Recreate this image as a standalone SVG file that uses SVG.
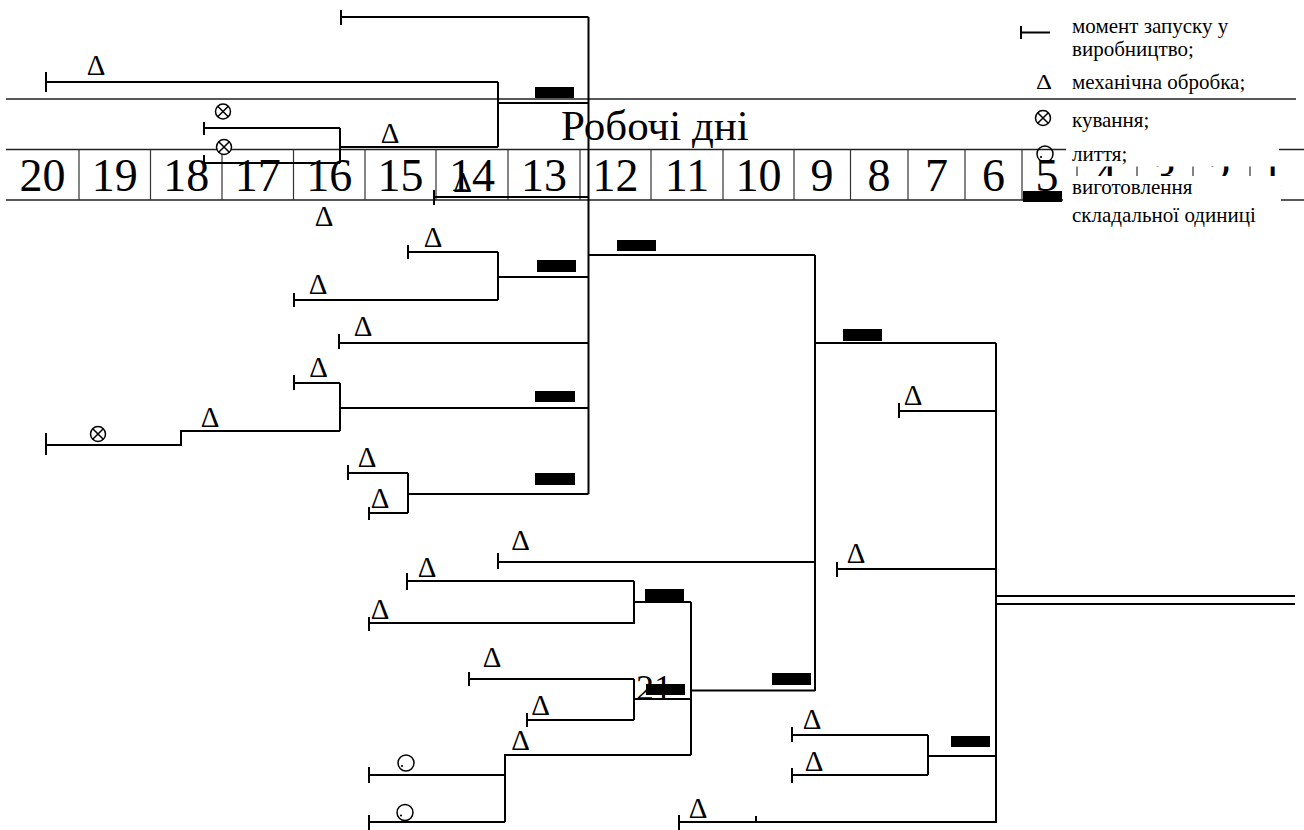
<svg xmlns="http://www.w3.org/2000/svg" width="1304" height="830" viewBox="0 0 1304 830">
<style>
.ln{fill:none;stroke:#000;stroke-width:2}
.tl{fill:none;stroke:#222;stroke-width:1.6}
.dv{fill:none;stroke:#333;stroke-width:1.2}
.bar{fill:#000}
.num{font-family:"Liberation Serif","Times New Roman",serif;font-size:46px;text-anchor:middle;fill:#000}
.tri{font-family:"Liberation Serif","Times New Roman",serif;font-size:29px;text-anchor:middle;fill:#000}
.lg{font-family:"Liberation Serif","Times New Roman",serif;font-size:21px;fill:#000}
.ttl{font-family:"Liberation Serif","Times New Roman",serif;font-size:43px;fill:#000}
</style>
<defs>
<g id="forge"><circle r="7.5" fill="#fff" stroke="#000" stroke-width="1.5"/><path d="M-5.3-5.3L5.3 5.3M-5.3 5.3L5.3-5.3" stroke="#000" stroke-width="1.5"/></g>
<g id="cast"><circle r="8" fill="none" stroke="#000" stroke-width="1.5"/><circle cx="-4" cy="3" r="1.1" fill="#000"/></g>
</defs>
<rect width="1304" height="830" fill="#fff"/>

<g id="timeline">
<path class="tl" d="M6,99H1296M6,149.5H1304M6,200H1304"/>
<path class="dv" d="M79,149.5V200M150.5,149.5V200M222,149.5V200M293.5,149.5V200M365,149.5V200M436,149.5V200M508,149.5V200M580,149.5V200M651,149.5V200M723,149.5V200M794,149.5V200M850.5,149.5V200M908,149.5V200M965,149.5V200M1022,149.5V200M1077,149.5V200M1137,149.5V200M1193,149.5V200M1250,149.5V200"/>
<text class="num" x="42.5" y="191">20</text>
<text class="num" x="114.8" y="191">19</text>
<text class="num" x="186.3" y="191">18</text>
<text class="num" x="257.8" y="191">17</text>
<text class="num" x="329.3" y="191">16</text>
<text class="num" x="400.5" y="191">15</text>
<text class="num" x="472" y="191">14</text>
<text class="num" x="544" y="191">13</text>
<text class="num" x="615.5" y="191">12</text>
<text class="num" x="687" y="191">11</text>
<text class="num" x="758.5" y="191">10</text>
<text class="num" x="822" y="191">9</text>
<text class="num" x="879" y="191">8</text>
<text class="num" x="936.5" y="191">7</text>
<text class="num" x="993.5" y="191">6</text>
<text class="num" x="1047" y="191">5</text>
<text class="num" x="1105" y="191">4</text>
<text class="num" x="1165" y="191">3</text>
<text class="num" x="1220" y="191">2</text>
<text class="num" x="1272" y="191">1</text>
<text class="ttl" x="561" y="140">Робочі дні</text>
</g>

<g id="connectors" class="ln">
<path d="M588.5,17V494"/>
<path d="M498,82V147M498,103H588.5"/>
<path d="M340,128V163M340,147H498"/>
<path d="M498,252V300M498,277H588.5"/>
<path d="M340,383V431M340,408H588.5"/>
<path d="M408,473V513M408,494H588.5"/>
<path d="M588.5,255H815M815,255V691"/>
<path d="M815,343H996M996,343V823"/>
<path d="M634,581V624M634,602H691M691,602V755"/>
<path d="M634,679V720M633,699H691"/>
<path d="M691,690.5H815"/>
<path d="M505,822V755H691"/>
<path d="M928,735V775M928,756H996"/>
<path d="M996,596H1295M996,604H1295"/>
</g>

<g id="n01"><path class="ln" d="M341,10V25M341,17H588.5"/></g>
<g id="n02"><path class="ln" d="M46,72V92M46,82H498"/><text class="tri" x="96" y="75">Δ</text></g>
<g id="n03"><text class="tri" x="390" y="143">Δ</text></g>
<g id="n04"><path class="ln" d="M204,122V135M204,128H340"/><use href="#forge" x="223" y="111.5"/></g>
<g id="n05"><path class="ln" d="M204,155V164M204,163H340"/><use href="#forge" x="224" y="147"/></g>
<g id="n06"><path class="ln" d="M434,190V205M434,197H588.5"/><text class="tri" x="462.5" y="192">Δ</text></g>
<g id="n07"><text class="tri" x="324" y="226">Δ</text></g>
<g id="n08"><path class="ln" d="M408,245V259M408,252H498"/><text class="tri" x="433" y="247">Δ</text></g>
<g id="n09"><path class="ln" d="M294,293V307M294,300H498"/><text class="tri" x="318" y="293.5">Δ</text></g>
<g id="n10"><path class="ln" d="M339,334V349M339,343H588.5"/><text class="tri" x="363" y="336">Δ</text></g>
<g id="n11"><path class="ln" d="M294,375V390M294,383H340"/><text class="tri" x="318.5" y="377">Δ</text></g>
<g id="n12"><path class="ln" d="M46,433V455M46,445H181V431H340"/><use href="#forge" x="98" y="434"/><text class="tri" x="210" y="426.5">Δ</text></g>
<g id="n13"><path class="ln" d="M348,465V480M348,473H408"/><text class="tri" x="367" y="467">Δ</text></g>
<g id="n14"><path class="ln" d="M369,507V520M369,513H408"/><text class="tri" x="380" y="508">Δ</text></g>
<g id="n15"><path class="ln" d="M899,403V418M899,411H996"/><text class="tri" x="913" y="405">Δ</text></g>
<g id="n16"><path class="ln" d="M498,553V569M498,562H815"/><text class="tri" x="520.5" y="550">Δ</text></g>
<g id="n17"><path class="ln" d="M837,562V577M837,569H996"/><text class="tri" x="856" y="563">Δ</text></g>
<g id="n18"><path class="ln" d="M407,573V590M407,581H634"/><text class="tri" x="427" y="577">Δ</text></g>
<g id="n19"><path class="ln" d="M369,617V631M369,623H634"/><text class="tri" x="380" y="619">Δ</text></g>
<g id="n20"><path class="ln" d="M469,672V686M469,679H634"/><text class="tri" x="492" y="667">Δ</text></g>
<g id="n21"><path class="ln" d="M527,713V727M527,720H634"/><text class="tri" x="540.5" y="715">Δ</text></g>
<g id="n22"><text class="tri" x="520.5" y="749.5">Δ</text></g>
<g id="n23"><path class="ln" d="M369,767V783M369,775H505"/><use href="#cast" x="406" y="763"/></g>
<g id="n24"><path class="ln" d="M369,815V830M369,822H505"/><use href="#cast" x="405" y="812.5"/></g>
<g id="n25"><path class="ln" d="M679,815V830M679,822H996"/><path class="ln" d="M756,816V822" stroke-width="1.3"/><text class="tri" x="698" y="818">Δ</text></g>
<g id="n26"><path class="ln" d="M792,727V742M792,735H928"/><text class="tri" x="812" y="729">Δ</text></g>
<g id="n27"><path class="ln" d="M792,768V783M792,775H928"/><text class="tri" x="814" y="771">Δ</text></g>

<g id="assemblies">
<rect class="bar" x="535" y="87" width="39" height="11"/>
<rect class="bar" x="537" y="260" width="39" height="12"/>
<rect class="bar" x="617" y="240" width="39" height="11"/>
<rect class="bar" x="535" y="391" width="40" height="11"/>
<rect class="bar" x="535" y="473" width="40" height="12"/>
<rect class="bar" x="843" y="329" width="39" height="12"/>
<rect class="bar" x="645" y="589" width="39" height="12"/>
<text x="636" y="700" font-family="Liberation Serif, serif" font-size="36" fill="#000">21</text>
<rect class="bar" x="646" y="684" width="39" height="11"/>
<rect class="bar" x="772" y="673" width="39" height="12"/>
<rect class="bar" x="951" y="736" width="39" height="11"/>
</g>

<g id="legend">
<rect x="1066" y="139" width="213" height="27.5" fill="#fff"/>
<rect x="1063" y="176" width="218" height="52" fill="#fff"/>
<path class="ln" d="M1021,26V39M1021,32.5H1050"/>
<text class="lg" x="1072" y="33">момент запуску у</text>
<text class="lg" x="1072" y="56">виробництво;</text>
<text x="1036" y="89" font-family="Liberation Serif, serif" font-size="22" textLength="16" lengthAdjust="spacingAndGlyphs">Δ</text>
<text class="lg" x="1072" y="89">механічна обробка;</text>
<use href="#forge" x="1043" y="118"/>
<text class="lg" x="1072" y="127">кування;</text>
<use href="#cast" x="1045" y="154"/>
<text class="lg" x="1072" y="161">лиття;</text>
<rect class="bar" x="1023" y="191" width="39" height="11"/>
<text class="lg" x="1072" y="194">виготовлення</text>
<text class="lg" x="1072" y="222">складальної одиниці</text>
</g>
</svg>
